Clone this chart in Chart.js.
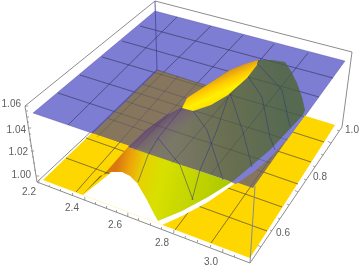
<!DOCTYPE html>
<html>
<head>
<meta charset="utf-8">
<script src="https://cdn.jsdelivr.net/npm/chart.js@4/dist/chart.umd.min.js"></script>
<style>
  html, body { margin: 0; padding: 0; background: #fff; }
  canvas { display: block; }
</style>
</head>
<body>
<canvas id="plot" width="360" height="271"></canvas>
<script>
'use strict';

/* ── Tick labels ── */
const zTickLabels = ['1.06', '1.04', '1.02', '1.00'];
const xTickLabels = ['2.2', '2.4', '2.6', '2.8', '3.0'];
const yTickLabels = ['0.6', '0.8', '1.0'];
const zLabelAt = [[21, 104], [26, 130], [28, 152], [31, 175]];
const xLabelAt = [[29, 192], [72, 208], [115, 225], [162, 243], [211, 262]];
const yLabelAt = [[283, 233], [320, 177], [352, 130]];

/* ── Surfaces, as outlines ── */
const planeOutline = [[33, 113], [155, 11], [345, 61], [253, 188]];
const floorOutline = [[157, 70], [335, 125], [250, 258], [43, 180]];
const shadedFloor = [[157, 70], [304, 116], [253, 188], [92, 133]];
const holeOutline = [[83, 195], [157, 223], [162, 225], [182, 216], [208, 202], [234, 184], [215, 170], [130, 165], [113, 171]];
const blueStripe = [[229, 181], [250, 165], [270, 148], [287, 130], [303, 113], [304, 117], [290, 136], [272, 156], [255, 171], [236, 184]];
const domeLit = [[128, 147], [232, 182], [208, 197], [182, 211], [158, 221], [153, 212], [147, 200], [137, 183], [130, 176], [122, 172], [106, 172]];
const domeUnderside = [[83, 194], [106, 172], [113, 171], [100, 176]];
const domeShaded = [[128, 147], [146, 130], [165, 116], [182, 107], [207, 85], [230, 70], [258, 60], [272, 60], [285, 62], [291, 71], [297, 83], [302, 97], [305, 110], [303, 115], [287, 132], [270, 150], [250, 167], [232, 182]];
const domeBand = [[128, 147], [146, 130], [165, 116], [182, 107], [198, 113], [176, 135], [160, 153]];
const domeCap = [[182, 108], [193, 111], [211, 105], [228, 95], [247, 78], [257, 65], [258, 60], [245, 64], [230, 70], [207, 85], [187, 98]];

/* ── Mesh lines ── */
const planeMesh = [
  [[58, 93], [271, 163]], [[80, 75], [288, 140]], [[102, 57], [305, 117]], [[122, 41], [319, 97]], [[140, 26], [333, 78]],
  [[68, 125], [177, 17]], [[97, 137], [211, 26]], [[134, 150], [243, 35]], [[172, 163], [274, 44]], [[211, 174], [308, 53]],
];
const floorMesh = [
  [[66, 158], [267, 231]], [[86, 138], [282, 207]], [[107, 118], [298, 184]], [[125, 101], [311, 162]], [[142, 84], [324, 142]],
  [[76, 192], [178, 76]], [[109, 205], [209, 86]], [[142, 217], [239, 95]], [[175, 230], [269, 105]], [[211, 243], [301, 115]],
];
const domeMesh = [
  [[138, 182], [148, 155], [158, 138], [170, 123], [182, 108]],
  [[158, 138], [180, 165], [193, 200]],
  [[228, 97], [217, 130], [200, 170], [192, 200]],
  [[193, 111], [207, 130], [223, 180]],
  [[230, 93], [243, 132], [252, 167]],
  [[245, 72], [262, 97], [270, 137], [275, 150]],
  [[257, 63], [282, 90], [290, 127]],
];

/* ── Box edges and ticks ── */
const backEdges = [
  [[25, 106], [155, 1], [352, 52], [342, 127]],
  [[37, 182], [157, 70]],
];
const innerPost = [[[155, 1], [157, 70]]];
const frontEdges = [
  [[25, 106], [37, 182], [250, 263], [342, 127]],
  [[250, 263], [255, 186]],
];
const zTickBase = [[25, 106], [26, 111], [27, 117], [27, 122], [28, 128], [29, 134], [29, 140], [30, 146], [31, 151], [32, 157], [33, 163], [34, 170], [36, 176]];
const xTickBase = [[38, 183], [49, 187], [60, 191], [72, 195], [84, 200], [95, 204], [106, 208], [116, 212], [127, 216], [138, 220], [150, 225], [161, 229], [173, 233], [185, 238], [197, 242], [210, 247], [222, 252], [234, 257]];
const yTickBase = [[261, 247], [272, 231], [280, 219], [289, 205], [298, 192], [306, 180], [315, 167], [323, 155], [331, 143], [339, 131]];

/* ── Helpers ── */
const plotCtx = document.getElementById('plot').getContext('2d');

function toPoints(list) {
  return list.map(p => ({ x: p[0], y: p[1] }));
}

function gradient(x0, y0, x1, y1, stops) {
  const g = plotCtx.createLinearGradient(x0, y0, x1, y1);
  stops.forEach(s => g.addColorStop(s[0], s[1]));
  return g;
}

function area(outline, color, edge, edgeWidth) {
  return {
    data: toPoints(outline.concat([outline[0]])),
    showLine: true,
    fill: 'shape',
    backgroundColor: color,
    borderColor: edge || 'rgba(0,0,0,0)',
    borderWidth: edgeWidth || 0,
  };
}

// several polylines in one dataset, broken with gaps
function lines(paths, color, width) {
  const data = [];
  paths.forEach(path => {
    toPoints(path).forEach(p => data.push(p));
    data.push({ x: null, y: null });
  });
  return { data, showLine: true, fill: false, spanGaps: false, borderColor: color, borderWidth: width || 1 };
}

function ticks(bases, dx, dy, every) {
  return bases.map((b, i) => {
    const k = i % every === 0 ? 1.6 : 1;
    return [b, [b[0] + dx * k, b[1] + dy * k]];
  });
}

/* ── Layers, back to front ── */
const litGradient = gradient(118, 160, 235, 185, [
  [0, '#d9780f'], [0.1, '#eda20a'], [0.22, '#e6d200'], [0.38, '#d8e000'], [1, '#a9c700'],
]);
const shadedGradient = gradient(170, 130, 285, 120, [
  [0, '#7b7868'], [0.5, '#696f50'], [1, '#566a52'],
]);
const bandGradient = gradient(150, 122, 170, 148, [
  [0, 'rgba(90,55,115,.95)'], [0.4, 'rgba(115,90,115,.6)'], [1, 'rgba(125,120,105,0)'],
]);
const capGradient = gradient(212, 78, 222, 100, [
  [0, '#d9951a'], [0.35, '#ffc800'], [0.7, '#fff000'], [1, '#ffe100'],
]);

const layers = [
  lines(backEdges, '#8c8c8c'),
  area(planeOutline, '#7d7dd4', 'rgba(50,50,130,.4)', 0.7),
  lines(innerPost, '#4a4aa0', 0.9),
  lines(planeMesh, 'rgba(60,60,110,.6)', 0.8),
  area(floorOutline, '#ffd700'),
  lines(floorMesh, 'rgba(95,85,45,.6)', 0.8),
  area(shadedFloor, '#86765e'),
  lines(floorMesh, 'rgba(60,55,95,.4)', 0.8),
  lines([[[92, 133], [157, 70]]], '#5555b0', 1.4),
  lines([[[157, 70], [304, 116]]], 'rgba(50,50,130,.6)', 0.9),
  area(holeOutline, '#ffffff'),
  area(blueStripe, '#7d7dd4'),
  area(domeUnderside, '#6f6a12'),
  area(domeLit, litGradient),
  area(domeShaded, shadedGradient),
  area(domeBand, bandGradient),
  lines(domeMesh, 'rgba(45,55,125,.6)', 0.9),
  lines(planeMesh, 'rgba(45,50,70,.35)', 0.8),
  area(domeCap, capGradient),
  lines(frontEdges, '#8c8c8c'),
  lines(ticks(zTickBase, 2, 0, 4), '#8c8c8c', 0.8),
  lines(ticks(xTickBase, 0.5, -2, 4), '#8c8c8c', 0.8),
  lines(ticks(yTickBase, -2, -1, 4), '#8c8c8c', 0.8),
];
layers.forEach((d, i) => { d.order = layers.length - i; d.pointRadius = 0; });

const tickTextPlugin = {
  id: 'tickText',
  afterDatasetsDraw(chart) {
    const { ctx, scales } = chart;
    ctx.save();
    ctx.font = '10px "Liberation Sans", sans-serif';
    ctx.fillStyle = '#5e5e5e';
    ctx.textBaseline = 'middle';
    const put = (labels, places, align) => {
      ctx.textAlign = align;
      labels.forEach((t, i) => {
        ctx.fillText(t, scales.x.getPixelForValue(places[i][0]), scales.y.getPixelForValue(places[i][1]));
      });
    };
    put(zTickLabels, zLabelAt, 'right');
    put(xTickLabels, xLabelAt, 'center');
    put(yTickLabels, yLabelAt, 'center');
    ctx.restore();
  },
};

new Chart(plotCtx, {
  type: 'scatter',
  data: { datasets: layers },
  plugins: [tickTextPlugin],
  options: {
    responsive: false,
    animation: false,
    layout: { padding: 0 },
    plugins: { legend: { display: false }, tooltip: { enabled: false } },
    scales: {
      x: { type: 'linear', min: 0, max: 360, display: false },
      y: { type: 'linear', min: 0, max: 271, reverse: true, display: false },
    },
  },
});
</script>
</body>
</html>
